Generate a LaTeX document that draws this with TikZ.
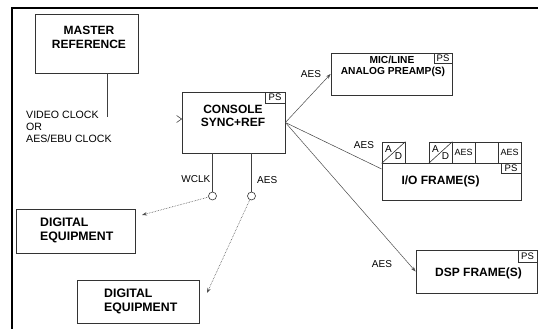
\documentclass[tikz,border=0pt]{standalone}
\usepackage{fontspec}
\setmainfont{Liberation Sans}
\usetikzlibrary{arrows.meta}
\begin{document}
\begin{tikzpicture}[x=1pt,y=-1pt,
  box/.style={draw=black!80, line width=0.8pt, inner sep=0pt},
  psbox/.style={draw=black!80, line width=0.7pt, inner sep=0pt, minimum width=20pt, minimum height=11pt, font=\fontsize{9.5}{10}\selectfont},
  cell/.style={draw=black!80, line width=0.7pt, inner sep=0pt, minimum width=23pt, minimum height=21pt, font=\fontsize{9}{10}\selectfont},
  title/.style={font=\bfseries\fontsize{12}{13.5}\selectfont, align=center, inner sep=0pt},
  ltitle/.style={font=\bfseries\fontsize{12.3}{14}\selectfont, align=left, inner sep=0pt, anchor=west},
  lbl/.style={font=\fontsize{10}{12}\selectfont, inner sep=0pt},
  wire/.style={draw=black!75, line width=0.6pt},
  arr/.style={draw=black!70, line width=0.5pt, -{Stealth[length=5pt,width=3.5pt]}},
  darr/.style={draw=black!70, line width=0.6pt, densely dotted, -{Stealth[length=5pt,width=3.5pt]}},
  frameline/.style={line width=1.4pt},
  jack/.style={circle, draw=black!80, line width=0.6pt, fill=white, minimum size=8pt, inner sep=0pt}
]
\useasboundingbox (0,0) rectangle (538,329);
\draw[frameline] (12,329) -- (12,8) -- (538,8);

% master reference
\node[box, minimum width=103pt, minimum height=59pt] (master) at (86.5,43.5) {};
\node[title] (mastertxt) at (89,37.5) {MASTER\\REFERENCE};
\coordinate (mclk) at (107,117);
\draw[wire] (master.south -| mclk) -- (mclk);
\node[lbl, font=\fontsize{10.6}{12}\selectfont, align=left, anchor=west] (clktxt) at (26,126.5) {VIDEO CLOCK\\OR\\AES/EBU CLOCK};

% console
\node[box, minimum width=103pt, minimum height=61pt] (console) at (233.5,122.5) {};
\node[psbox, anchor=north east] (conps) at (console.north east) {PS};
\node[title] (contxt) at (233,116) {CONSOLE\\SYNC+REF};
\draw[wire] ([shift={(-5,-7)}]console.west) -- ([shift={(0,-3.5)}]console.west) -- ([shift={(-5,0)}]console.west);

% jacks
\node[jack] (wj) at (212.5,196) {};
\node[jack] (aj) at (251.5,196) {};
\draw[wire] (console.south -| wj) -- (wj.north);
\draw[wire] (console.south -| aj) -- (aj.north);
\node[lbl, anchor=east] (wclktxt) at (210.5,179) {WCLK};
\node[lbl, anchor=west] (aestxt) at (257,180) {AES};

% digital equipment
\node[box, minimum width=119pt, minimum height=44pt] (dig1) at (75.5,231) {};
\node[ltitle] (dig1txt) at (40,230) {DIGITAL\\EQUIPMENT};
\node[box, minimum width=122pt, minimum height=43pt] (dig2) at (138,301.5) {};
\node[ltitle] (dig2txt) at (104,301.5) {DIGITAL\\EQUIPMENT};
\coordinate (d1t) at (142,215);
\coordinate (d2t) at (207,293);
\draw[darr] (wj) -- (d1t);
\draw[darr] (aj) -- (d2t);

% mic/line preamp
\node[box, minimum width=121pt, minimum height=42pt] (mic) at (391.5,74) {};
\node[psbox, minimum width=18pt, minimum height=10pt, anchor=north east] (micps) at (mic.north east) {PS};
\node[font=\bfseries\fontsize{10.2}{11}\selectfont, inner sep=0pt] (mictxt1) at (392,59.5) {MIC/LINE};
\node[font=\bfseries\fontsize{10.2}{11}\selectfont, inner sep=0pt] (mictxt2) at (393,71.5) {ANALOG PREAMP(S)};
\node[lbl] (micaes) at (311,74) {AES};
\draw[arr] (console.east) -- (mic.west);

% I/O frame
\node[box, minimum width=139pt, minimum height=37pt] (io) at (451.5,181.5) {};
\node[cell] (ad1) at (393.5,152.5) {};
\node[cell] (ad2) at (440.5,152.5) {};
\node[cell] (aes1) at (463.5,152.5) {AES};
\node[cell] (emp) at (486.5,152.5) {};
\node[cell] (aes2) at (509.5,152.5) {AES};
\foreach \c in {ad1,ad2}{
  \draw[black!80, line width=0.6pt] (\c.south west) -- (\c.north east);
  \node[font=\fontsize{10}{10}\selectfont, inner sep=0pt] at ([shift={(-5,-3.5)}]\c.center) {A};
  \node[font=\fontsize{10}{10}\selectfont, inner sep=0pt] at ([shift={(5,4)}]\c.center) {D};
}
\node[psbox, minimum width=20pt, minimum height=10pt, anchor=north east] (iops) at (io.north east) {PS};
\node[title] (iotxt) at (440.5,181) {I/O FRAME(S)};
\node[lbl] (ioaes) at (364,145) {AES};
\draw[wire, line width=0.5pt] (console.east) -- ([shift={(0,-12.5)}]io.west);

% DSP frame
\node[box, minimum width=121pt, minimum height=43pt] (dsp) at (476.5,271.5) {};
\node[psbox, minimum width=19pt, minimum height=12pt, anchor=north east] (dspps) at (dsp.north east) {PS};
\node[title] (dsptxt) at (478.5,273) {DSP FRAME(S)};
\node[lbl] (dspaes) at (382,264) {AES};
\draw[arr] (console.east) -- (dsp.west);
\end{tikzpicture}
\end{document}
